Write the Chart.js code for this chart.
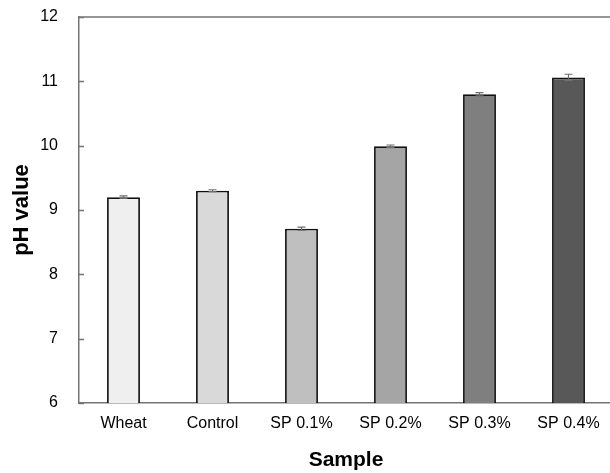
<!DOCTYPE html>
<html lang="en">
<head>
  <meta charset="UTF-8">
  <title>pH value by sample</title>
  <style>
    * { box-sizing: border-box; margin: 0; padding: 0; }
    html, body { width: 610px; height: 473px; overflow: hidden; background: #fff; }
    .wrap { width: 614px; height: 473px; }
  </style>
</head>
<body>
  <div class="wrap"><canvas id="chart" width="614" height="473"></canvas></div>

  <script src="https://cdn.jsdelivr.net/npm/chart.js@4/dist/chart.umd.min.js"></script>
  <script>
    const samples  = ['Wheat', 'Control', 'SP 0.1%', 'SP 0.2%', 'SP 0.3%', 'SP 0.4%'];
    const phValues = [9.20, 9.30, 8.71, 9.99, 10.80, 11.06];
    const phErrors = [0.02, 0.015, 0.025, 0.02, 0.025, 0.05];
    const barFills = ['#efefef', '#d9d9d9', '#bfbfbf', '#a5a5a5', '#7f7f7f', '#585858'];
    const yTicks   = [6, 7, 8, 9, 10, 11, 12];

    const AXIS_COLOR = '#747474';
    const FONT = '"Liberation Sans", Arial, sans-serif';

    // error bars, inward y ticks and the top frame line
    const extras = {
      id: 'extras',
      afterDatasetsDraw(chart) {
        const ctx = chart.ctx;
        const x = chart.scales.x, y = chart.scales.y;
        const area = chart.chartArea;
        ctx.save();

        ctx.strokeStyle = '#6e6e6e';
        ctx.lineWidth = 1.2;
        phValues.forEach((v, i) => {
          const cx = x.getPixelForValue(i);
          const top = y.getPixelForValue(v + phErrors[i]);
          const bot = y.getPixelForValue(v - phErrors[i]);
          ctx.beginPath();
          ctx.moveTo(cx, top); ctx.lineTo(cx, bot);
          ctx.moveTo(cx - 4, top); ctx.lineTo(cx + 4, top);
          ctx.moveTo(cx - 4, bot); ctx.lineTo(cx + 4, bot);
          ctx.stroke();
        });

        ctx.strokeStyle = AXIS_COLOR;
        ctx.lineWidth = 1.5;
        ctx.beginPath();
        yTicks.forEach(t => {
          const py = Math.round(y.getPixelForValue(t)) + 0.5;
          ctx.moveTo(area.left, py); ctx.lineTo(area.left + 5, py);
        });
        ctx.moveTo(area.left, area.top);
        ctx.lineTo(area.right + 2, area.top);
        ctx.stroke();
        ctx.restore();
      }
    };

    new Chart(document.getElementById('chart'), {
      type: 'bar',
      data: {
        labels: samples,
        datasets: [{
          data: phValues,
          backgroundColor: barFills,
          borderColor: '#111',
          borderWidth: 1.8,
          barPercentage: 0.37,
          categoryPercentage: 1.0
        }]
      },
      options: {
        responsive: false,
        animation: false,
        layout: { padding: { top: 17, right: 1, left: 0, bottom: 0 } },
        plugins: { legend: { display: false }, tooltip: { enabled: false } },
        scales: {
          x: {
            grid: { display: false, drawTicks: false },
            border: { color: AXIS_COLOR, width: 1.5 },
            ticks: { color: '#000', padding: 11, font: { family: FONT, size: 16 } },
            title: {
              display: true, text: 'Sample', color: '#000',
              font: { family: FONT, size: 21, weight: 'bold' },
              padding: { top: 15, bottom: 0 }
            },
            afterFit: s => { s.height = 70; }
          },
          y: {
            min: 6, max: 12,
            afterBuildTicks: s => { s.ticks = yTicks.map(v => ({ value: v })); },
            grid: { display: false, drawTicks: false },
            border: { color: AXIS_COLOR, width: 1.5 },
            ticks: { color: '#000', padding: 21, font: { family: FONT, size: 16 } },
            title: {
              display: true, text: 'pH value', color: '#000',
              font: { family: FONT, size: 22, weight: 'bold' },
              padding: { top: 9, bottom: 0 }
            },
            afterFit: s => { s.width = 79; s.paddingTop = 0; s.paddingBottom = 0; }
          }
        }
      },
      plugins: [extras]
    });
  </script>
</body>
</html>
